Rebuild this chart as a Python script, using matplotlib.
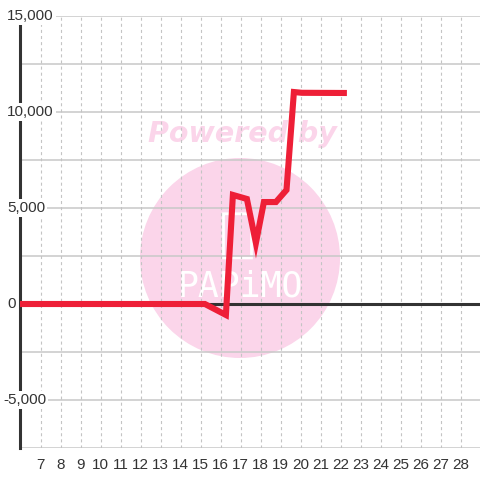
import matplotlib
matplotlib.use("Agg")
import matplotlib.pyplot as plt
from matplotlib.patches import Ellipse, FancyBboxPatch
import matplotlib.transforms as mtransforms

plt.rcParams['font.family'] = ['Liberation Sans', 'DejaVu Sans']
plt.rcParams['lines.scale_dashes'] = False

# ---- data ----
x_vals = [5.975, 15.22, 16.27, 16.62, 17.32, 17.77, 18.17, 18.77, 19.3, 19.67, 20.07, 22.32]
y_vals = [0, 0, -570, 5680, 5470, 3180, 5310, 5310, 5940, 11040, 11000, 10990]
x_ticks = list(range(7, 29))
x_tick_labels = [str(t) for t in x_ticks]
y_ticks = [-5000, 0, 5000, 10000, 15000]
y_tick_labels = ['-5,000', '0', '5,000', '10,000', '15,000']
y_grid = [-7500, -5000, -2500, 0, 2500, 5000, 7500, 10000, 12500, 15000]

fig = plt.figure(figsize=(4.8, 4.8), dpi=100)
fig.patch.set_facecolor('white')
ax = fig.add_axes([20/480, 32/480, 460/480, 432/480])
ax.set_facecolor('white')
ax.set_xlim(5.975, 28.975)
ax.set_ylim(-7500, 15000)

# watermark
circ = Ellipse((16.975, 2396), width=200/20, height=200/19.2*1000,
               facecolor='#fbd5ea', edgecolor='none', zorder=0.3)
ax.add_patch(circ)
ax.text(17.1, 8437, 'Powered by', color='#fbd5ea', fontsize=20.5,
        fontweight='bold', fontstyle='italic', family='DejaVu Sans',
        ha='center', va='baseline', zorder=0.4)
ax.text(16.975, 900, 'PAPiMO', color='white', fontsize=25,
        family='DejaVu Sans Mono', ha='center', va='center', zorder=0.4)
rect = FancyBboxPatch((16.15, 2400), 1.4, 2300,
                      boxstyle='round,pad=0,rounding_size=0.3',
                      facecolor='none', edgecolor='white', lw=2, zorder=0.4,
                      mutation_aspect=1000/19.2/20)
ax.add_patch(rect)

# grid
for g in y_grid:
    ax.axhline(g, color='#c8c8c8', lw=1.1, zorder=0.5)
for t in x_ticks:
    ax.axvline(t, color='#c4c4c4', lw=0.8, linestyle=(0, (2.2, 2.2)), zorder=0.5)

# zero line
ax.axhline(0, color='#333333', lw=2.2, zorder=2)

# series
ax.plot(x_vals, y_vals, color='#ee1f37', lw=4.4, zorder=4,
        solid_joinstyle='miter', solid_capstyle='butt')

# spines
for s in ['top', 'right', 'bottom']:
    ax.spines[s].set_visible(False)
ax.spines['left'].set_color('#333333')
ax.spines['left'].set_linewidth(2.2)
ax.spines['left'].set_bounds(-7500, 14580)

# x ticks
ax.set_xticks(x_ticks)
ax.set_xticklabels(x_tick_labels)
ax.tick_params(axis='x', length=0, pad=7, labelsize=11, labelcolor='#333333')

# y tick labels as text with background
ax.set_yticks([])
trans = mtransforms.blended_transform_factory(fig.transFigure, ax.transData)
for v, lab in zip(y_ticks, y_tick_labels):
    x0 = 3/480 if lab.startswith('-') else 7/480
    ax.text(x0, v, lab, transform=trans, ha='left', va='center',
            fontsize=11, color='#333333', zorder=6, clip_on=False,
            bbox=dict(facecolor='white', edgecolor='none', pad=1.5))

fig.savefig('out.png', dpi=100, facecolor='white')
